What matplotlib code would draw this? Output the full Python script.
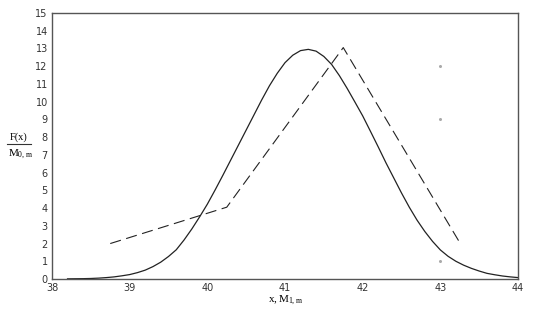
import numpy as np
import matplotlib.pyplot as plt

plt.rcParams['mathtext.fontset'] = 'custom'
plt.rcParams['mathtext.rm'] = 'Liberation Serif'
plt.rcParams['mathtext.it'] = 'Liberation Serif'

## solid curve F(x)/M0,m, values every 0.1 from 38.2 to 44
x_curve = np.linspace(38.2, 44.0, 59)
f_curve = [0.01, 0.015, 0.02, 0.03, 0.05, 0.08, 0.12, 0.18, 0.25, 0.36,
           0.5, 0.7, 0.95, 1.27, 1.65, 2.2, 2.82, 3.5, 4.22, 5.02,
           5.85, 6.7, 7.55, 8.4, 9.25, 10.1, 10.9, 11.6, 12.2, 12.62,
           12.88, 12.95, 12.85, 12.55, 12.1, 11.47, 10.75, 9.98, 9.2, 8.33,
           7.45, 6.55, 5.7, 4.85, 4.05, 3.32, 2.68, 2.12, 1.64, 1.28,
           1.0, 0.78, 0.6, 0.45, 0.32, 0.24, 0.17, 0.12, 0.08]

## dashed polygon (x, M1,m)
x_dash = [38.75, 40.25, 41.75, 43.25]
m_dash = [2.0, 4.05, 13.05, 2.05]

## faint points at x = 43
x_pts = [43, 43, 43]
y_pts = [12, 9, 1]

xticks = [38, 39, 40, 41, 42, 43, 44]
yticks = list(range(0, 16))

fig = plt.figure(figsize=(5.45, 3.22), dpi=100)
ax = fig.add_axes([0.0954, 0.1335, 0.8551, 0.8261])

ax.plot(x_curve, f_curve, color="#222222", lw=0.9)
ax.plot(x_dash, m_dash, color="#222222", lw=0.8, linestyle=(0, (10, 5)))
ax.plot(x_pts, y_pts, linestyle="none", marker="o", markersize=1.2,
        color="#aaaaaa")

ax.set_xlim(38, 44)
ax.set_ylim(0, 15)
ax.set_xticks(xticks)
ax.set_yticks(yticks)
ax.tick_params(length=0, labelsize=7, colors="#333333", pad=3)
for s in ax.spines.values():
    s.set_color("#555555")
    s.set_linewidth(1.0)

fig.text(0.018, 0.575, "F(x)", fontsize=7.5, family="Liberation Serif",
         va="center", ha="left")
fig.add_artist(plt.Line2D([0.013, 0.057], [0.553, 0.553], color="#333333", lw=0.8))
fig.text(0.015, 0.52, r"$\mathrm{M}_{0,\mathrm{m}}$", fontsize=8,
         va="center", ha="left")
fig.text(0.523, 0.066, r"$\mathrm{x,M}_{1,\mathrm{m}}$", fontsize=8,
         va="center", ha="center")

fig.savefig("out.png", dpi=100)
